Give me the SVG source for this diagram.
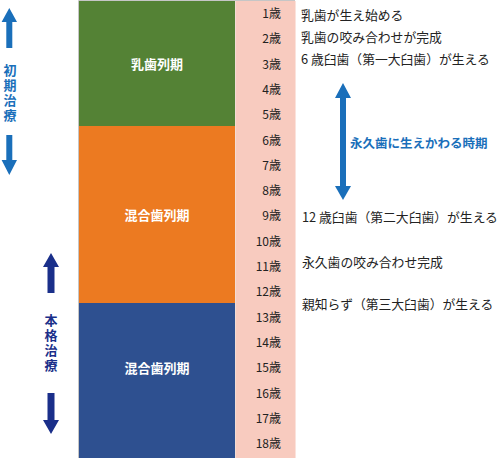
<svg xmlns="http://www.w3.org/2000/svg" width="500" height="458" viewBox="0 0 500 458">
<style>
text{font-family:"Noto Sans CJK JP","Noto Sans",sans-serif}
.age{font-size:12px;fill:#222;text-anchor:end}
.ev{font-size:12.8px;fill:#222}
.ph{font-size:13px;fill:#fff;font-weight:bold;text-anchor:middle}
.vt{font-size:13px;font-weight:bold;writing-mode:vertical-rl;letter-spacing:2px}
</style>
<rect width="500" height="458" fill="#fff"/>
<g id="frame">
<path d="M78.5,458 V0.5 H295" fill="none" stroke="#c6c6c6"/>
</g>
<g id="phase-nyushi">
<rect x="79" y="1" width="156" height="125" fill="#548235"/>
<text class="ph" x="157" y="69">乳歯列期</text>
</g>
<g id="phase-kongo1">
<rect x="79" y="126" width="156" height="177" fill="#ec7a21"/>
<text class="ph" x="157" y="220">混合歯列期</text>
</g>
<g id="phase-kongo2">
<rect x="79" y="303" width="156" height="155" fill="#2e5090"/>
<text class="ph" x="157" y="373">混合歯列期</text>
</g>
<g id="ages">
<rect x="235" y="1" width="60" height="457" fill="#f8cbbf"/>
<line x1="235.5" y1="1" x2="235.5" y2="458" stroke="#f3dcd4"/>
<line x1="295.5" y1="1" x2="295.5" y2="458" stroke="#fbe3dc"/>
<text class="age" x="281" y="18">1歳</text>
<text class="age" x="281" y="43.3">2歳</text>
<text class="age" x="281" y="68.6">3歳</text>
<text class="age" x="281" y="93.9">4歳</text>
<text class="age" x="281" y="119.2">5歳</text>
<text class="age" x="281" y="144.5">6歳</text>
<text class="age" x="281" y="169.8">7歳</text>
<text class="age" x="281" y="195.1">8歳</text>
<text class="age" x="281" y="220.4">9歳</text>
<text class="age" x="281" y="245.7">10歳</text>
<text class="age" x="281" y="271">11歳</text>
<text class="age" x="281" y="296.3">12歳</text>
<text class="age" x="281" y="321.6">13歳</text>
<text class="age" x="281" y="346.9">14歳</text>
<text class="age" x="281" y="372.2">15歳</text>
<text class="age" x="281" y="397.5">16歳</text>
<text class="age" x="281" y="422.8">17歳</text>
<text class="age" x="281" y="448.1">18歳</text>
</g>
<g id="events">
<text class="ev" x="301" y="20">乳歯が生え始める</text>
<text class="ev" x="301" y="42">乳歯の咬み合わせが完成</text>
<text class="ev" x="301" y="64">6 歳臼歯（第一大臼歯）が生える</text>
<text class="ev" x="302" y="222">12 歳臼歯（第二大臼歯）が生える</text>
<text class="ev" x="302" y="267">永久歯の咬み合わせ完成</text>
<text class="ev" x="302" y="309">親知らず（第三大臼歯）が生える</text>
</g>
<g id="label-eikyushi">
<text x="350" y="148" font-size="12.5" fill="#1a6fba" font-weight="bold" style="font-family:'Noto Sans CJK JP',sans-serif">永久歯に生えかわる時期</text>
</g>
<g id="label-shoki">
<text class="vt" x="10" y="64" fill="#1a6fba">初期治療</text>
</g>
<g id="label-honkaku">
<text class="vt" x="51" y="314" fill="#1a2f8a">本格治療</text>
</g>
<g id="connectors">
<polygon fill="#1a6fba" points="9.3,8 17,22 12.3,22 12.3,48 6.3,48 6.3,22 1.6,22"/>
<polygon fill="#1a6fba" points="9.3,175 17,160 12.3,160 12.3,135 6.3,135 6.3,160 1.6,160"/>
<polygon fill="#1a2f8a" points="51,253 59,267 54.5,267 54.5,293 47.5,293 47.5,267 43,267"/>
<polygon fill="#1a2f8a" points="51,434 59,420 54.5,420 54.5,393 47.5,393 47.5,420 43,420"/>
<polygon fill="#1a6fba" points="343,83 351,98 346,98 346,186 340,186 340,98 335,98"/>
<polygon fill="#1a6fba" points="343,200 351,186 335,186"/>
</g>
</svg>
